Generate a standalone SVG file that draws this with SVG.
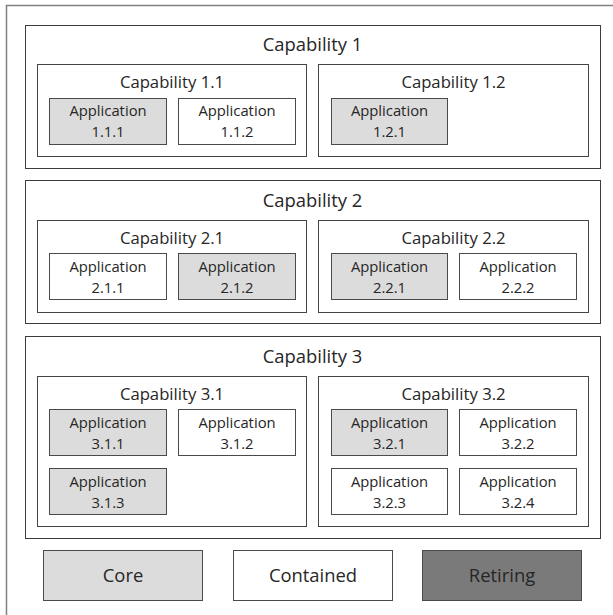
<svg xmlns="http://www.w3.org/2000/svg" width="613" height="615" viewBox="0 0 613 615">
  <style>
    text { font-family: "Open Sans", "Liberation Sans", sans-serif; fill: #262626; text-anchor: middle; }
    .cap { fill: #ffffff; stroke: #3c3c3c; stroke-width: 1; }
    .sub { fill: #ffffff; stroke: #444444; stroke-width: 1; }
    .app { stroke: #4a4a4a; stroke-width: 1; }
    .core { fill: #dcdcdc; }
    .contained { fill: #ffffff; }
    .retiring { fill: #7a7a7a; }
    .t1 { font-size: 18.4px; }
    .t2 { font-size: 16.7px; }
    .t3 { font-size: 14.8px; }
    .lg { font-size: 18.4px; }
  </style>

  <rect width="613" height="615" fill="#ffffff"/>
  <!-- outer frame: only top and left edges are visible -->
  <path d="M6.5 615 V5.5 H613" fill="none" stroke="#808080" stroke-width="1.5"/>

  <!-- Capability 1 -->
  <g id="cap1">
    <rect class="cap" x="25.5" y="25.5" width="575" height="143"/>
    <text class="t1" x="312.5" y="51">Capability 1</text>
  </g>
  <g id="cap1-1">
    <rect class="sub" x="37.5" y="64.5" width="269" height="92"/>
    <text class="t2" x="172" y="87.5">Capability 1.1</text>
  </g>
  <g id="app1-1-1">
    <rect class="app core" x="49.5" y="98.5" width="117" height="46"/>
    <text class="t3" x="108" y="116">Application</text>
    <text class="t3" x="108" y="137">1.1.1</text>
  </g>
  <g id="app1-1-2">
    <rect class="app contained" x="178.5" y="98.5" width="117" height="46"/>
    <text class="t3" x="237" y="116">Application</text>
    <text class="t3" x="237" y="137">1.1.2</text>
  </g>
  <g id="cap1-2">
    <rect class="sub" x="318.5" y="64.5" width="270" height="92"/>
    <text class="t2" x="453.5" y="87.5">Capability 1.2</text>
  </g>
  <g id="app1-2-1">
    <rect class="app core" x="331.5" y="98.5" width="116" height="46"/>
    <text class="t3" x="389.5" y="116">Application</text>
    <text class="t3" x="389.5" y="137">1.2.1</text>
  </g>

  <!-- Capability 2 -->
  <g id="cap2">
    <rect class="cap" x="25.5" y="180.5" width="575" height="143"/>
    <text class="t1" x="312.5" y="207">Capability 2</text>
  </g>
  <g id="cap2-1">
    <rect class="sub" x="37.5" y="220.5" width="269" height="92"/>
    <text class="t2" x="172" y="244">Capability 2.1</text>
  </g>
  <g id="app2-1-1">
    <rect class="app contained" x="49.5" y="253.5" width="117" height="46"/>
    <text class="t3" x="108" y="271.5">Application</text>
    <text class="t3" x="108" y="292.5">2.1.1</text>
  </g>
  <g id="app2-1-2">
    <rect class="app core" x="178.5" y="253.5" width="117" height="46"/>
    <text class="t3" x="237" y="271.5">Application</text>
    <text class="t3" x="237" y="292.5">2.1.2</text>
  </g>
  <g id="cap2-2">
    <rect class="sub" x="318.5" y="220.5" width="270" height="92"/>
    <text class="t2" x="453.5" y="244">Capability 2.2</text>
  </g>
  <g id="app2-2-1">
    <rect class="app core" x="331.5" y="253.5" width="116" height="46"/>
    <text class="t3" x="389.5" y="271.5">Application</text>
    <text class="t3" x="389.5" y="292.5">2.2.1</text>
  </g>
  <g id="app2-2-2">
    <rect class="app contained" x="459.5" y="253.5" width="117" height="46"/>
    <text class="t3" x="518" y="271.5">Application</text>
    <text class="t3" x="518" y="292.5">2.2.2</text>
  </g>

  <!-- Capability 3 -->
  <g id="cap3">
    <rect class="cap" x="25.5" y="336.5" width="575" height="202"/>
    <text class="t1" x="312.5" y="362.5">Capability 3</text>
  </g>
  <g id="cap3-1">
    <rect class="sub" x="37.5" y="376.5" width="269" height="150"/>
    <text class="t2" x="172" y="400">Capability 3.1</text>
  </g>
  <g id="app3-1-1">
    <rect class="app core" x="49.5" y="409.5" width="117" height="46"/>
    <text class="t3" x="108" y="427.5">Application</text>
    <text class="t3" x="108" y="448.5">3.1.1</text>
  </g>
  <g id="app3-1-2">
    <rect class="app contained" x="178.5" y="409.5" width="117" height="46"/>
    <text class="t3" x="237" y="427.5">Application</text>
    <text class="t3" x="237" y="448.5">3.1.2</text>
  </g>
  <g id="app3-1-3">
    <rect class="app core" x="49.5" y="468.5" width="117" height="46"/>
    <text class="t3" x="108" y="486.5">Application</text>
    <text class="t3" x="108" y="507.5">3.1.3</text>
  </g>
  <g id="cap3-2">
    <rect class="sub" x="318.5" y="376.5" width="270" height="150"/>
    <text class="t2" x="453.5" y="400">Capability 3.2</text>
  </g>
  <g id="app3-2-1">
    <rect class="app core" x="331.5" y="409.5" width="116" height="46"/>
    <text class="t3" x="389.5" y="427.5">Application</text>
    <text class="t3" x="389.5" y="448.5">3.2.1</text>
  </g>
  <g id="app3-2-2">
    <rect class="app contained" x="459.5" y="409.5" width="117" height="46"/>
    <text class="t3" x="518" y="427.5">Application</text>
    <text class="t3" x="518" y="448.5">3.2.2</text>
  </g>
  <g id="app3-2-3">
    <rect class="app contained" x="331.5" y="468.5" width="116" height="46"/>
    <text class="t3" x="389.5" y="486.5">Application</text>
    <text class="t3" x="389.5" y="507.5">3.2.3</text>
  </g>
  <g id="app3-2-4">
    <rect class="app contained" x="459.5" y="468.5" width="117" height="46"/>
    <text class="t3" x="518" y="486.5">Application</text>
    <text class="t3" x="518" y="507.5">3.2.4</text>
  </g>

  <!-- Legend -->
  <g id="legend-core">
    <rect class="app core" x="43.5" y="550.5" width="159" height="50"/>
    <text class="lg" x="123" y="582">Core</text>
  </g>
  <g id="legend-contained">
    <rect class="app contained" x="233.5" y="550.5" width="159" height="50"/>
    <text class="lg" x="313" y="582">Contained</text>
  </g>
  <g id="legend-retiring">
    <rect class="app retiring" x="422.5" y="550.5" width="159" height="50"/>
    <text class="lg" x="502" y="582">Retiring</text>
  </g>
</svg>
